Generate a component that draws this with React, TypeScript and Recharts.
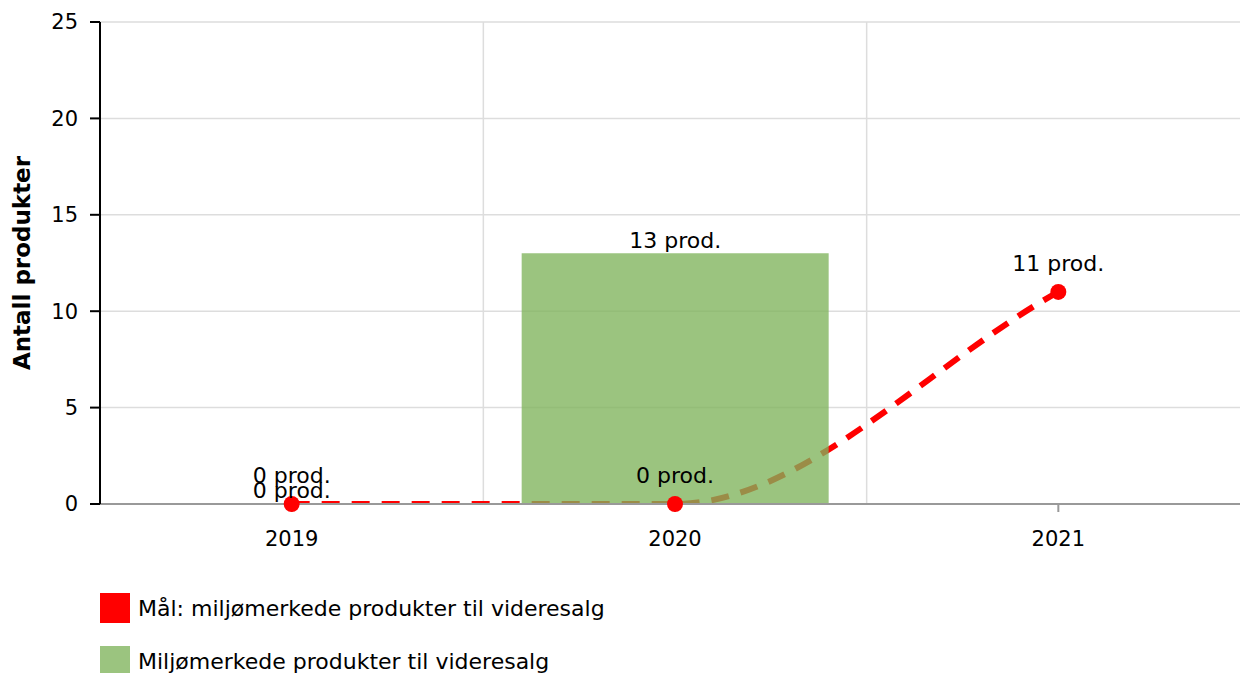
import {
  ComposedChart,
  Bar,
  Line,
  XAxis,
  YAxis,
  CartesianGrid,
  LabelList,
  Legend,
} from 'recharts';

const years = ['2019', '2020', '2021'];
const goalValues = [0, 0, 11];
const actualValues: (number | null)[] = [0, 13, null];
const yTicks = [0, 5, 10, 15, 20, 25];

const goalName = 'Mål: miljømerkede produkter til videresalg';
const actualName = 'Miljømerkede produkter til videresalg';

const RED = '#ff0000';
const GREEN = '#7fb35b';
const FONT = '"DejaVu Sans", Verdana, sans-serif';

if (typeof document !== 'undefined') {
  document.body.style.margin = '0';
  document.body.style.overflow = 'hidden';
}

const chartData = years.map((year, i) => ({
  year,
  goal: goalValues[i],
  actual: actualValues[i],
}));

const legendItems = [
  { name: goalName, color: RED, opacity: 1 },
  { name: actualName, color: GREEN, opacity: 0.78 },
];

const formatProd = (v: unknown) => (v === null || v === undefined ? '' : `${v} prod.`);

// smooth curve: flat at turning points, secant slope at the ends
function smoothCurve(context: any) {
  let xs: number[] = [];
  let ys: number[] = [];
  return {
    areaStart() {},
    areaEnd() {},
    lineStart() {
      xs = [];
      ys = [];
    },
    point(x: number, y: number) {
      xs.push(+x);
      ys.push(+y);
    },
    lineEnd() {
      const n = xs.length;
      if (!n) return;
      context.moveTo(xs[0], ys[0]);
      if (n === 1) return;
      const s = xs.slice(1).map((x, i) => (ys[i + 1] - ys[i]) / (x - xs[i]));
      const m = xs.map((_, i) => {
        if (i === 0) return s[0];
        if (i === n - 1) return s[n - 2];
        return s[i - 1] * s[i] <= 0 ? 0 : (s[i - 1] + s[i]) / 2;
      });
      for (let i = 0; i < n - 1; i++) {
        const dx = (xs[i + 1] - xs[i]) / 3;
        context.bezierCurveTo(
          xs[i] + dx,
          ys[i] + m[i] * dx,
          xs[i + 1] - dx,
          ys[i + 1] - m[i + 1] * dx,
          xs[i + 1],
          ys[i + 1],
        );
      }
    },
  };
}

function YAxisTitle({ viewBox }: any) {
  const x = viewBox.x + 22;
  const y = viewBox.y + viewBox.height / 2;
  return (
    <text
      x={x}
      y={y}
      transform={`rotate(-90, ${x}, ${y})`}
      textAnchor="middle"
      dominantBaseline="central"
      fontFamily={FONT}
      fontSize={23}
      fontWeight="bold"
      fill="#000"
    >
      Antall produkter
    </text>
  );
}

function LegendContent() {
  return (
    <div style={{ fontFamily: FONT, fontSize: 22, color: '#000' }}>
      {legendItems.map((item, i) => (
        <div key={item.name} style={{ display: 'flex', alignItems: 'center', height: 30, marginTop: i === 0 ? 0 : 23 }}>
          <span
            style={{
              display: 'inline-block',
              width: 30,
              height: 30,
              background: item.color,
              opacity: item.opacity,
              marginRight: 8,
            }}
          />
          <span>{item.name}</span>
        </div>
      ))}
    </div>
  );
}

export default function App() {
  return (
    <div style={{ width: 1240, height: 673, overflow: 'hidden', background: '#fff' }}>
      <ComposedChart
        width={1250}
        height={673}
        data={chartData}
        margin={{ top: 22, right: 0, left: 0, bottom: 0 }}
        barCategoryGap="10%"
      >
        <CartesianGrid
          stroke="#dddddd"
          strokeWidth={1.5}
          verticalCoordinatesGenerator={({ offset }: any) =>
            years.slice(1).map((_, i) => offset.left + ((i + 1) * offset.width) / years.length)
          }
        />
        <XAxis
          dataKey="year"
          height={89}
          tickSize={8}
          tickMargin={19}
          stroke="#999999"
          axisLine={{ stroke: '#999999', strokeWidth: 2 }}
          tickLine={{ stroke: '#999999', strokeWidth: 2 }}
          tick={{ fontSize: 21, fill: '#000', fontFamily: FONT }}
        />
        <YAxis
          width={100}
          domain={[0, 25]}
          ticks={yTicks}
          allowDataOverflow
          tickSize={10}
          tickMargin={12}
          axisLine={{ stroke: '#000', strokeWidth: 2 }}
          tickLine={{ stroke: '#000', strokeWidth: 2 }}
          tick={{ fontSize: 21, fill: '#000', fontFamily: FONT }}
          label={(props: any) => <YAxisTitle {...props} />}
        />
        <Legend
          verticalAlign="bottom"
          content={() => <LegendContent />}
          wrapperStyle={{ left: 100, top: 593, width: 700, height: 80 }}
        />
        <Line
          type={smoothCurve as any}
          dataKey="goal"
          name={goalName}
          stroke={RED}
          strokeWidth={6}
          strokeDasharray="18 12"
          dot={false}
          activeDot={false}
          legendType="none"
          isAnimationActive={false}
          {...({ zIndex: 250 } as any)}
        />
        <Bar
          dataKey="actual"
          name={actualName}
          fill={GREEN}
          fillOpacity={0.78}
          minPointSize={(v: any) => (v === 0 ? 1 : 0)}
          isAnimationActive={false}
          {...({ zIndex: 300 } as any)}
        >
          <LabelList
            dataKey="actual"
            position="top"
            offset={5}
            formatter={formatProd}
            style={{ fontSize: 22, fill: '#000', fontFamily: FONT }}
          />
        </Bar>
        <Line
          type="linear"
          dataKey="goal"
          name={goalName}
          stroke="none"
          dot={{ r: 8, fill: RED, stroke: 'none', clipDot: false } as any}
          activeDot={false}
          legendType="none"
          isAnimationActive={false}
          {...({ zIndex: 400 } as any)}
        >
          <LabelList
            dataKey="goal"
            position="top"
            offset={21}
            formatter={formatProd}
            style={{ fontSize: 22, fill: '#000', fontFamily: FONT }}
          />
        </Line>
      </ComposedChart>
    </div>
  );
}
